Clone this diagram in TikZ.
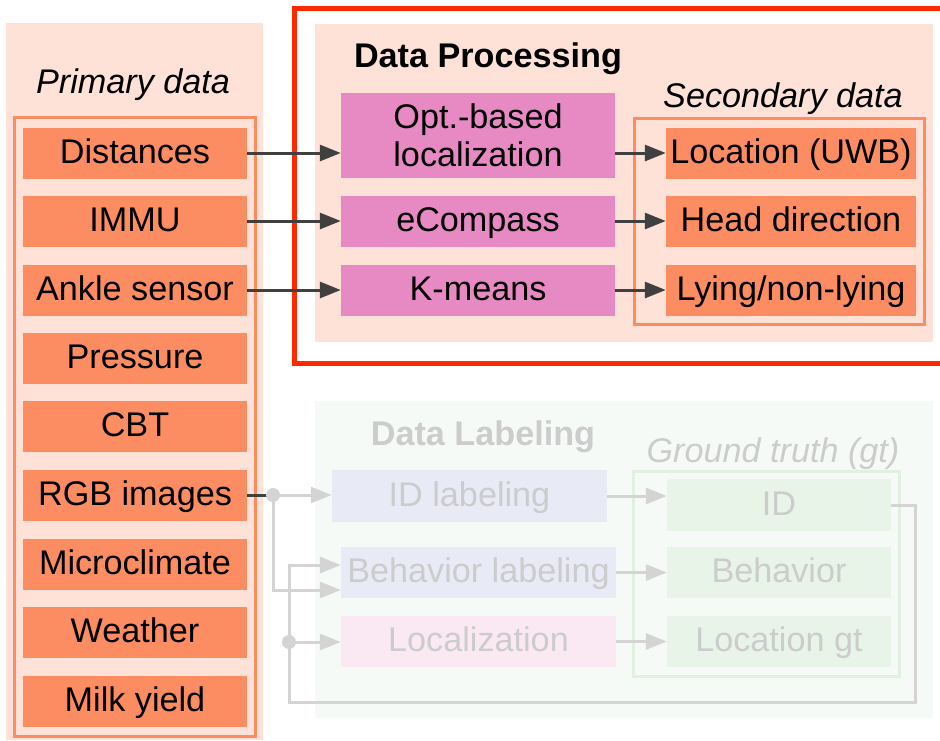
\documentclass[tikz,border=0pt]{standalone}
\usepackage{fontspec}
\setmainfont{Liberation Sans}
\usetikzlibrary{arrows.meta}

\definecolor{setorange}{HTML}{FC8D62}
\definecolor{setpink}{HTML}{E78AC3}
\definecolor{peach}{RGB}{254,226,216}
\definecolor{redframe}{RGB}{255,42,0}
\definecolor{darkarrow}{RGB}{64,64,64}
\definecolor{fadetext}{RGB}{204,204,204}
\definecolor{fadeline}{RGB}{212,212,212}
\definecolor{fadepanel}{RGB}{246,250,246}
\definecolor{fadeblue}{RGB}{232,235,245}
\definecolor{fadepink}{RGB}{250,232,242}
\definecolor{fadegreen}{RGB}{232,244,232}
\definecolor{fadegreenborder}{RGB}{224,241,224}

\begin{document}
\begin{tikzpicture}[x=1pt,y=-1pt,
  txt/.style={font=\fontsize{34.2}{38}\selectfont, inner sep=0pt, text height=25pt, text depth=5pt},
  box/.style={txt, minimum height=51pt},
  primbox/.style={box, fill=setorange, minimum width=224pt},
  procbox/.style={box, fill=setpink, minimum width=274pt},
  secbox/.style={box, fill=setorange, minimum width=250pt},
  lblbox/.style={box, text=fadetext, minimum width=275pt},
  gtbox/.style={box, fill=fadegreen, text=fadetext, minimum width=224pt},
  darkarr/.style={draw=darkarrow, line width=3pt, -{Triangle[length=21pt,width=16pt]}},
  fadearr/.style={draw=fadeline, line width=3pt, -{Triangle[length=21pt,width=16pt]}},
]
\useasboundingbox (0,0) rectangle (940,740);

% ---- left panel
\fill[peach] (6,23) rectangle (263,740);
\draw[setorange, line width=3pt] (14.5,117.5) rectangle (255.5,736.5);
\node[txt, font=\fontsize{34.2}{38}\selectfont\itshape] (primlabel) at (133,83) {Primary data};

\node[primbox] (dist) at (135,153) {Distances};
\node[primbox] (immu) at (135,221) {IMMU};
\node[primbox] (ankle) at (135,290) {Ankle sensor};
\node[primbox] (press) at (135,358) {Pressure};
\node[primbox] (cbt) at (135,426) {CBT};
\node[primbox] (rgb) at (135,495) {RGB images};
\node[primbox] (micro) at (135,564) {Microclimate};
\node[primbox] (weather) at (135,632) {Weather};
\node[primbox] (milk) at (135,701) {Milk yield};

% ---- data processing
\fill[peach] (315,24) rectangle (933,342);
\draw[redframe, line width=5pt] (945,8) -- (294,8) -- (294,363) -- (945,363);
\node[txt, font=\fontsize{34.2}{38}\selectfont\bfseries] (dplabel) at (488,57) {Data Processing};

\node[txt, fill=setpink, minimum width=274pt, minimum height=85pt, align=center,
      text height=, text depth=] (opt) at (478,135.5) {Opt.-based\\localization};
\node[procbox] (ecomp) at (478,221) {eCompass};
\node[procbox] (kmeans) at (478,290) {K-means};

\draw[setorange, line width=3pt] (634,118) rectangle (924.5,324.5);
\node[txt, font=\fontsize{34.2}{38}\selectfont\itshape] (seclabel) at (783,97) {Secondary data};
\node[secbox] (loc) at (791,153) {Location (UWB)};
\node[secbox] (head) at (791,221) {Head direction};
\node[secbox] (lying) at (791,290) {Lying/non-lying};

\draw[darkarr] (dist.east) -- (dist.east -| opt.west);
\draw[darkarr] (immu.east) -- (ecomp.west);
\draw[darkarr] (ankle.east) -- (kmeans.west);
\draw[darkarr] (opt.east |- loc.west) -- (loc.west);
\draw[darkarr] (ecomp.east) -- (head.west);
\draw[darkarr] (kmeans.east) -- (lying.west);

% ---- data labeling (faded)
\fill[fadepanel] (315,401) rectangle (933,718);
\node[txt, text=fadetext, font=\fontsize{34.2}{38}\selectfont\bfseries] (dllabel) at (483,435) {Data Labeling};
\node[txt, text=fadetext, font=\fontsize{34.2}{38}\selectfont\itshape] (gtlabel) at (773,452) {Ground truth (gt)};
\draw[fadegreenborder, line width=3pt] (633.5,471) rectangle (899.5,676);

\node[lblbox, fill=fadeblue, minimum height=52pt] (idl) at (469.5,496) {ID labeling};
\node[lblbox, fill=fadeblue] (behl) at (478.5,572.5) {Behavior labeling};
\node[lblbox, fill=fadepink] (locl) at (478.5,641.5) {Localization};

\node[gtbox, minimum height=52pt] (id) at (779,505) {ID};
\node[gtbox] (beh) at (779,572.5) {Behavior};
\node[gtbox] (locgt) at (779,641.5) {Location gt};

\coordinate (d1) at (273,495);
\coordinate (d2) at (289,642);
\coordinate (lr) at (915,702);
\coordinate (ll) at (289,702);

\draw[darkarrow, line width=3pt] (rgb.east) -- (d1);
\draw[fadearr] (d1) -- (idl.west |- d1);
\draw[fadearr] (d1) |- ([yshift=-17.5pt]behl.west);
\draw[draw=fadeline, line width=3pt] (id.east) -| (lr) -- (ll) -- (d2);
\draw[fadearr] (d2) |- ([yshift=7.5pt]behl.west);
\draw[fadearr] (d2) -- (locl.west |- d2);
\fill[fadeline] (d1) circle (7pt);
\fill[fadeline] (d2) circle (7pt);

\draw[fadearr] (idl.east) -- (idl.east -| id.west);
\draw[fadearr] (behl.east) -- (beh.west);
\draw[fadearr] (locl.east) -- (locl.east -| locgt.west);
\end{tikzpicture}
\end{document}
